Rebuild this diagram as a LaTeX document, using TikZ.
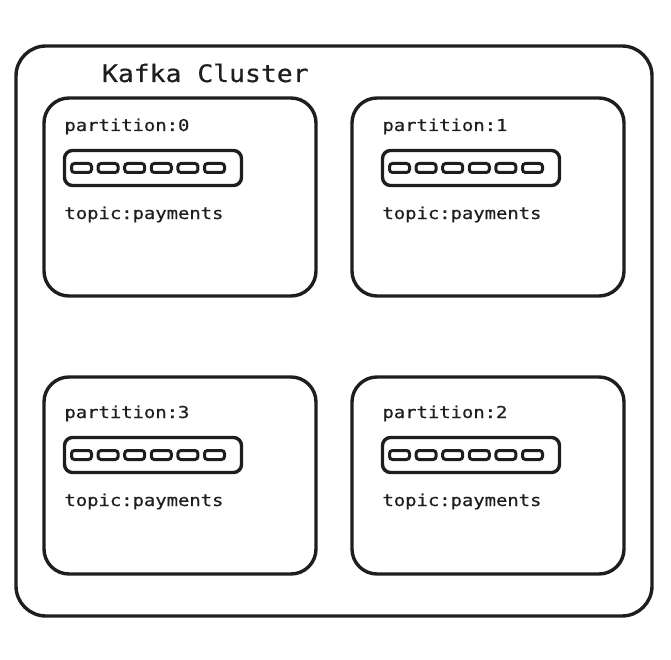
\documentclass[tikz,border=0pt]{standalone}
\usepackage{fontspec}
\newfontfamily\lblfont[FakeStretch=1.15,FakeBold=0.6]{DejaVu Sans Mono}
\newfontfamily\ttlfont[FakeStretch=1.1,FakeBold=0.6]{DejaVu Sans Mono}
\usetikzlibrary{positioning}
\definecolor{ink}{HTML}{1E1E1E}

\begin{document}
\begin{tikzpicture}[
  x=1pt, y=-1pt,
  line width=3.4pt,
  every node/.style={inner sep=0pt, outer sep=0pt, text=ink},
  frame/.style={draw=ink, rounded corners=30pt, minimum width=636pt, minimum height=570pt},
  partbox/.style={draw=ink, rounded corners=25pt, minimum width=272pt, minimum height=#1},
  queuebox/.style={draw=ink, rounded corners=8pt, minimum width=177pt, minimum height=35pt},
  cellbox/.style={draw=ink, line width=3pt, rounded corners=3pt, minimum width=20pt, minimum height=9pt},
  lbl/.style={font=\lblfont\fontsize{16.4}{19}\selectfont},
  title/.style={font=\ttlfont\fontsize{24}{28}\selectfont},
]
\useasboundingbox (0,0) rectangle (671,660);
\node[frame, anchor=north west] (cl) at (16,46) {};
\node[title, anchor=base west] (ttl) at (102,82) {Kafka Cluster};
\foreach \n/\bx/\by/\bh/\tx/\ty in {0/44/98/198/64.5/131, 1/352/98/198/382.5/131,
                                    3/44/377/197/64.5/418, 2/352/377/197/382.5/418}{
  \node[partbox=\bh pt, anchor=north west] (p\n) at (\bx,\by) {};
  \node[lbl, anchor=base west] (l\n) at (\tx,\ty) {partition:\n};
  \node[queuebox, anchor=west] (q\n) at (\tx,\ty+37) {};
  \node[lbl, anchor=base west] (t\n) at (\tx,\ty+88) {topic:payments};
  \foreach \i in {0,...,5}
    \node[cellbox, anchor=west] (c\n\i) at ([xshift={7pt+\i*26.6pt}]q\n.west) {};
}
\end{tikzpicture}
\end{document}
